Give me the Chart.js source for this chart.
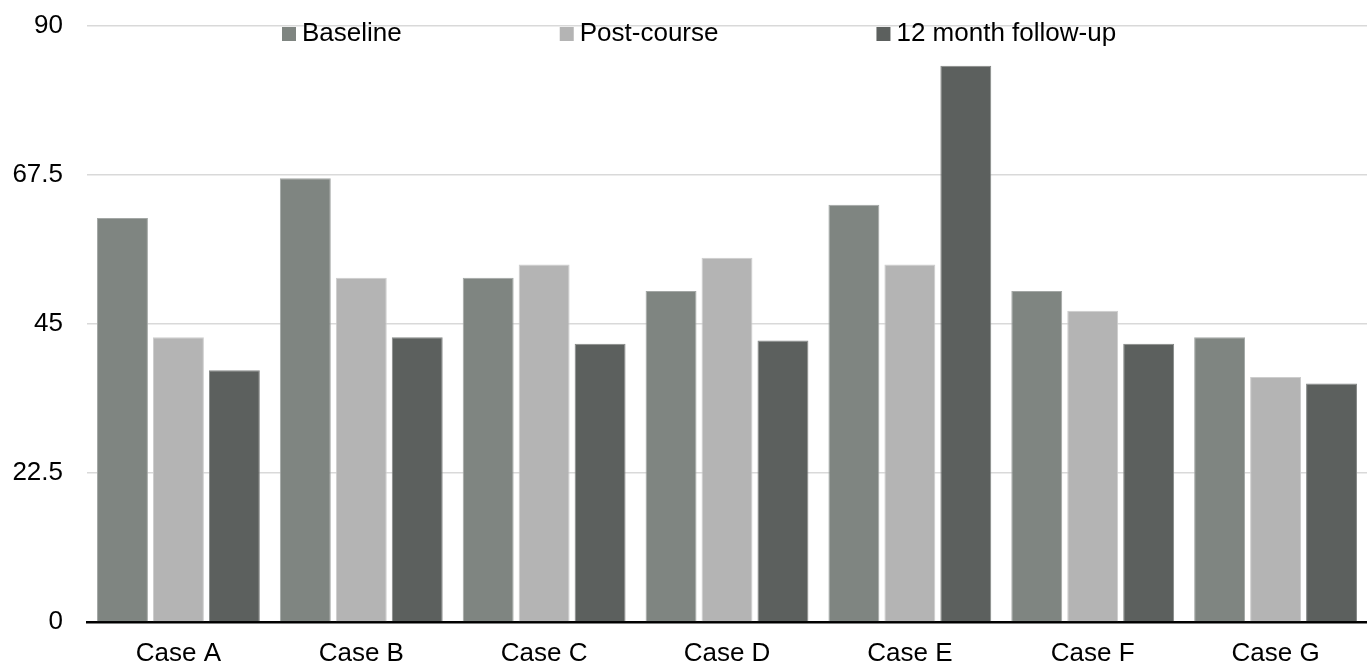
<!DOCTYPE html>
<html>
<head>
<meta charset="utf-8">
<script src="https://cdn.jsdelivr.net/npm/chart.js@4"></script>
<style>
  html, body { margin: 0; padding: 0; background: #fff; }
  #wrap { width: 1367px; height: 665px; }
</style>
</head>
<body>
<div id="wrap"><canvas id="chart"></canvas></div>
<script>
const categories = ['Case A', 'Case B', 'Case C', 'Case D', 'Case E', 'Case F', 'Case G'];
const seriesNames = ['Baseline', 'Post-course', '12 month follow-up'];
const baseline = [61, 67, 52, 50, 63, 50, 43];
const postCourse = [43, 52, 54, 55, 54, 47, 37];
const followUp = [38, 43, 42, 42.5, 84, 42, 36];
const yTicks = [0, 22.5, 45, 67.5, 90];

const colors = ['#7f8581', '#b4b4b4', '#5c605e'];
const edges = ['#a3a7a5', '#cdcdcd', '#858887'];
const FONT = '"Liberation Sans", Arial, sans-serif';

// legend drawn by hand, it sits over the top of the plot
const topLegend = {
    id: 'topLegend',
    afterDraw(chart) {
        const ctx = chart.ctx;
        ctx.save();
        ctx.font = '26px ' + FONT;
        ctx.textBaseline = 'middle';
        let x = 282;
        const y = 34;
        chart.data.datasets.forEach(ds => {
            ctx.fillStyle = ds.backgroundColor;
            ctx.fillRect(x, 27, 14, 14);
            ctx.fillStyle = '#000';
            ctx.fillText(ds.label, x + 20, y);
            x += 20 + ctx.measureText(ds.label).width + 158;
        });
        ctx.restore();
    }
};

new Chart(document.getElementById('chart'), {
    type: 'bar',
    data: {
        labels: categories,
        datasets: [baseline, postCourse, followUp].map((vals, i) => ({
            label: seriesNames[i],
            data: vals,
            backgroundColor: colors[i],
            borderColor: edges[i],
            borderWidth: 1,
            categoryPercentage: 0.918,
            barPercentage: 0.91
        }))
    },
    options: {
        responsive: true,
        maintainAspectRatio: false,
        animation: false,
        layout: { padding: { top: 26, right: 0, left: 0, bottom: 0 } },
        plugins: {
            legend: { display: false },
            tooltip: { enabled: false }
        },
        scales: {
            x: {
                grid: { display: false, drawTicks: false },
                border: { display: true, color: '#000', width: 2.5 },
                ticks: { color: '#000', font: { family: FONT, size: 26 }, padding: 16 },
                afterFit(scale) {
                    scale.height = 43;
                    scale.paddingLeft = 0;
                    scale.paddingRight = 0;
                }
            },
            y: {
                min: 0,
                max: 90,
                afterBuildTicks(scale) { scale.ticks = yTicks.map(v => ({ value: v })); },
                grid: { color: '#d9d9d9', lineWidth: 1.5, drawTicks: false },
                border: { display: false },
                ticks: {
                    color: '#000',
                    font: { family: FONT, size: 26 },
                    padding: 24,
                    callback: v => String(v)
                },
                afterFit(scale) {
                    scale.width = 87;
                    scale.paddingTop = 0;
                    scale.paddingBottom = 0;
                }
            }
        }
    },
    plugins: [topLegend]
});
</script>
</body>
</html>
